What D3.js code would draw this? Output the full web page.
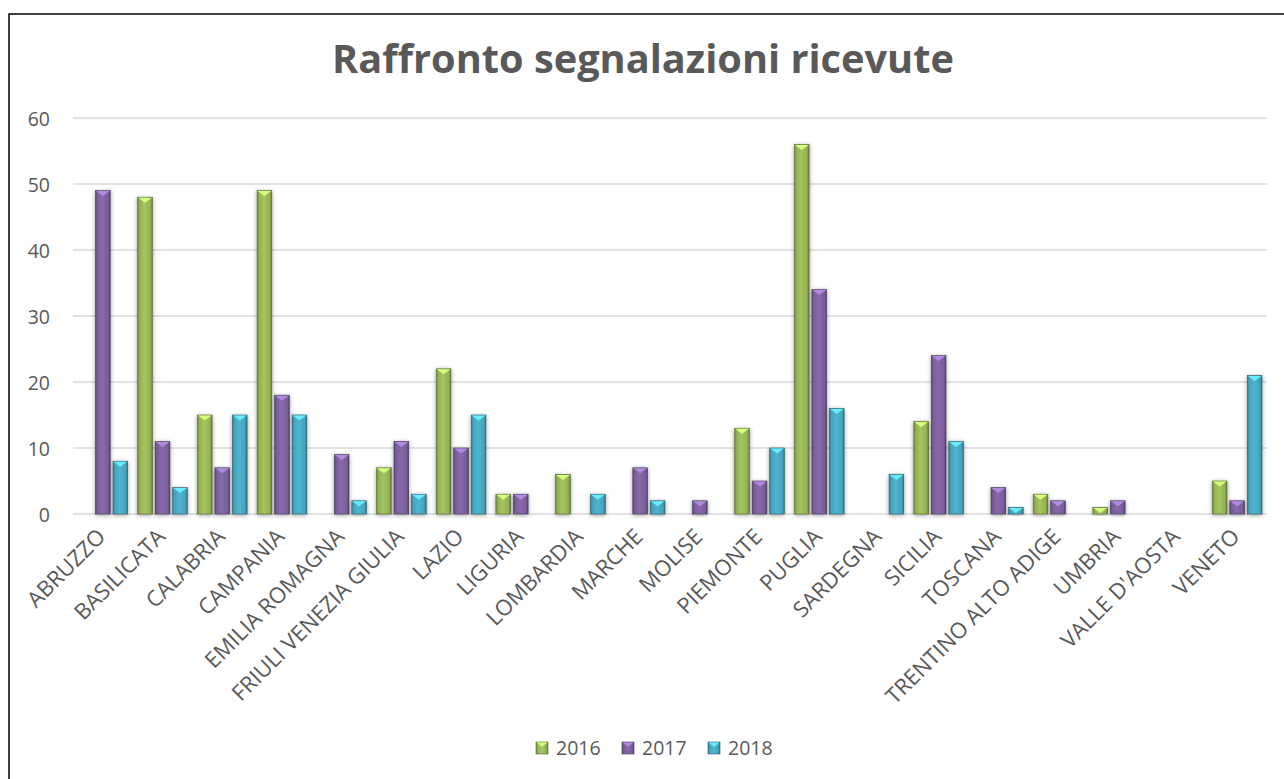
<!DOCTYPE html>
<html>
<head>
<meta charset="utf-8">
<script src="https://cdn.jsdelivr.net/npm/d3@7"></script>
<style>
  html, body { margin: 0; padding: 0; background: #fff; }
  svg { display: block; }
</style>
</head>
<body>
<svg id="chart" width="1284" height="779"></svg>
<script>
// Regions and yearly counts of received reports
const regions = ["ABRUZZO", "BASILICATA", "CALABRIA", "CAMPANIA", "EMILIA ROMAGNA",
  "FRIULI VENEZIA GIULIA", "LAZIO", "LIGURIA", "LOMBARDIA", "MARCHE", "MOLISE",
  "PIEMONTE", "PUGLIA", "SARDEGNA", "SICILIA", "TOSCANA", "TRENTINO ALTO ADIGE",
  "UMBRIA", "VALLE D'AOSTA", "VENETO"];
const years = ["2016", "2017", "2018"];
const values2016 = [0, 48, 15, 49, 0, 7, 22, 3, 6, 0, 0, 13, 56, 0, 14, 0, 3, 1, 0, 5];
const values2017 = [49, 11, 7, 18, 9, 11, 10, 3, 0, 7, 2, 5, 34, 0, 24, 4, 2, 2, 0, 2];
const values2018 = [8, 4, 15, 15, 2, 3, 15, 0, 3, 2, 0, 10, 16, 6, 11, 1, 0, 0, 0, 21];
const yTicks = [0, 10, 20, 30, 40, 50, 60];
const seriesColors = ["#9BBB59", "#8064A2", "#4BACC6"];

const seriesValues = [values2016, values2017, values2018];
const rows = regions.map((r, i) => ({ region: r, vals: years.map((y, k) => ({ year: y, k, v: seriesValues[k][i] })) }));

const svg = d3.select("#chart");
const W = 1284, H = 779;
const plot = { left: 73, right: 1267, top: 118, bottom: 514 };
const FONT = "'Open Sans', Lato, 'Liberation Sans', sans-serif";
const TXT = "#595959";

// Scale a text element's font so that its rendered width equals the wanted width
function fitWidth(sel, target) {
  const node = sel.node();
  const fs = parseFloat(sel.attr("font-size"));
  const w = node.getComputedTextLength();
  sel.attr("font-size", (fs * target / w).toFixed(2));
  return fs * target / w;
}

// Chart frame
svg.append("rect").attr("x", 9).attr("y", 14).attr("width", W + 20).attr("height", H + 20)
  .attr("fill", "#fff").attr("stroke", "#000").attr("stroke-width", 1.5);

// Definitions: gradients and shadow
const defs = svg.append("defs");
seriesColors.forEach((c, k) => {
  const base = d3.color(c);
  const g = defs.append("linearGradient").attr("id", "grad" + k)
    .attr("x1", "0%").attr("x2", "100%").attr("y1", "0%").attr("y2", "0%");
  g.append("stop").attr("offset", "0%").attr("stop-color", base.darker(0.9));
  g.append("stop").attr("offset", "14%").attr("stop-color", base.darker(0.15));
  g.append("stop").attr("offset", "45%").attr("stop-color", base.brighter(0.15));
  g.append("stop").attr("offset", "86%").attr("stop-color", base.darker(0.15));
  g.append("stop").attr("offset", "100%").attr("stop-color", base.darker(1.2));
});
const sh = defs.append("filter").attr("id", "shadow").attr("x", "-40%").attr("y", "-20%").attr("width", "180%").attr("height", "140%");
sh.append("feDropShadow").attr("dx", 0).attr("dy", 1).attr("stdDeviation", 2.2)
  .attr("flood-color", "#000").attr("flood-opacity", 0.4);

// Scales
const x0 = d3.scaleBand().domain(regions).range([plot.left, plot.right]).paddingInner(0).paddingOuter(0);
const x1 = d3.scaleBand().domain(years).range([5, x0.bandwidth() - 5]).paddingInner(0.16);
const y = d3.scaleLinear().domain([0, 60]).range([plot.bottom, plot.top]);

// Title
const title = svg.append("text").attr("x", 643).attr("y", 73).attr("text-anchor", "middle")
  .attr("font-family", FONT).attr("font-weight", "bold").attr("font-size", 30)
  .attr("fill", TXT).text("Raffronto segnalazioni ricevute");
fitWidth(title, 622);

// Gridlines
svg.append("g").selectAll("line").data(yTicks).join("line")
  .attr("x1", plot.left).attr("x2", plot.right)
  .attr("y1", d => y(d)).attr("y2", d => y(d))
  .attr("stroke", "#d9d9d9").attr("stroke-width", 1.5);

// Y axis labels
const yAxis = svg.append("g").attr("transform", `translate(${plot.left - 23},0)`)
  .call(d3.axisLeft(y).tickValues(yTicks).tickSize(0).tickPadding(0));
yAxis.select(".domain").remove();
yAxis.selectAll("text").attr("font-family", FONT).attr("font-size", 19.5).attr("fill", TXT).attr("dy", "0.36em");

// Bars
const groups = svg.append("g").selectAll("g").data(rows).join("g")
  .attr("transform", d => `translate(${x0(d.region)},0)`);
const bars = groups.selectAll("g").data(d => d.vals.filter(v => v.v > 0)).join("g")
  .attr("filter", "url(#shadow)");
bars.append("rect")
  .attr("x", d => x1(d.year)).attr("width", x1.bandwidth())
  .attr("y", d => y(d.v)).attr("height", d => y(0) - y(d.v))
  .attr("fill", d => `url(#grad${d.k})`)
  .attr("stroke", d => d3.color(seriesColors[d.k]).darker(1.6)).attr("stroke-width", 0.6);
// Bevelled top face
bars.append("path")
  .attr("d", d => {
    const bx = x1(d.year), bw = x1.bandwidth(), top = y(d.v);
    const h = y(0) - top;
    const bev = Math.min(5.5, h);
    return `M${bx + 0.5},${top + 0.5}L${bx + bw - 0.5},${top + 0.5}L${bx + bw / 2},${top + bev}Z`;
  })
  .attr("fill", d => d3.color(seriesColors[d.k]).brighter(0.9));

// X axis labels (rotated)
const xLabels = svg.append("g").selectAll("text").data(regions).join("text")
  .attr("transform", d => `translate(${x0(d) + x0.bandwidth() / 2 + 4},${plot.bottom + 24}) rotate(-45)`)
  .attr("text-anchor", "end")
  .attr("font-family", FONT).attr("font-size", 16).attr("fill", TXT)
  .text(d => d);
// Size all labels from the width of one of them
const ref = xLabels.filter(d => d === "EMILIA ROMAGNA");
const labelSize = fitWidth(ref, 186);
xLabels.attr("font-size", labelSize.toFixed(2));

// Legend
const legend = svg.append("g");
const legX = [536, 622, 708];
years.forEach((yr, k) => {
  const g = legend.append("g").attr("transform", `translate(${legX[k]},742)`);
  g.append("rect").attr("width", 12).attr("height", 12).attr("fill", `url(#grad${k})`)
    .attr("stroke", d3.color(seriesColors[k]).darker(1.6)).attr("stroke-width", 0.6);
  g.append("path").attr("d", "M0.5,0.5L11.5,0.5L6,5Z").attr("fill", d3.color(seriesColors[k]).brighter(0.9));
  g.append("text").attr("x", 20).attr("y", 13).attr("font-family", FONT).attr("font-size", 19.5)
    .attr("fill", TXT).text(yr);
});
</script>
</body>
</html>
